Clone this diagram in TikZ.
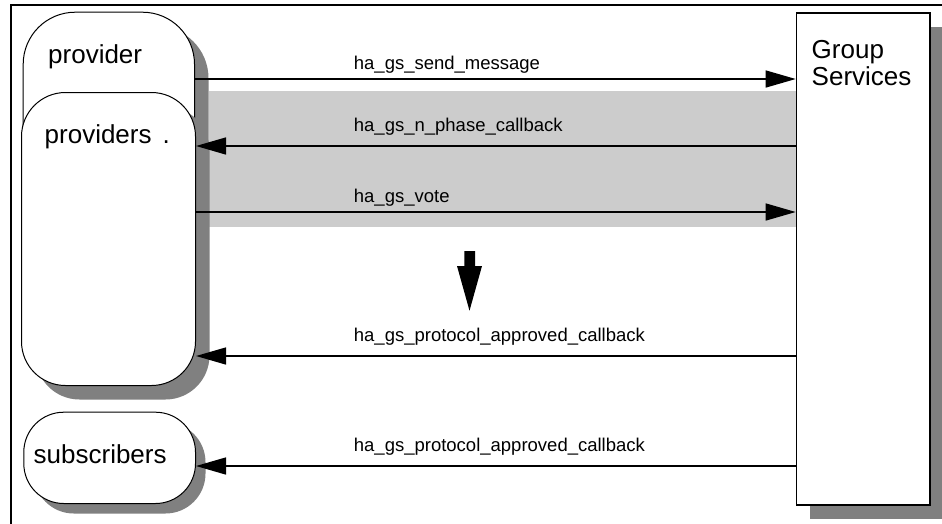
\documentclass[tikz,border=0pt]{standalone}
\usepackage{fontspec}
\setmainfont{Liberation Sans}
\usetikzlibrary{arrows.meta,shadows}
\definecolor{shadowgray}{HTML}{808080}
\definecolor{bandgray}{HTML}{CCCCCC}
\begin{document}
\begin{tikzpicture}[x=1pt,y=-1pt,
  box/.style={draw=black,fill=white,line width=1pt,inner sep=0pt,anchor=north west},
  shade/.style={drop shadow={shadow xshift=#1,shadow yshift=-#1,fill=shadowgray,opacity=1}},
  gsbox/.style={draw=black,fill=white,line width=1.7pt,inner sep=0pt,anchor=north west,
    drop shadow={shadow xshift=13pt,shadow yshift=-14pt,fill=shadowgray,opacity=1}},
  big/.style={font=\fontsize{26}{30}\selectfont,inner sep=0pt,anchor=base west},
  msg/.style={font=\fontsize{18.5}{22}\selectfont,inner sep=0pt,anchor=base west},
  arr/.style={line width=1.4pt,-{Triangle[length=30pt,width=17pt]}}]
\useasboundingbox (0,0) rectangle (942,523);

% outer frame (open on the right and at the bottom)
\draw[line width=1.5pt] (11,530) -- (11,5) -- (950,5);

% grey band behind the voting phase
\fill[bandgray] (209,91) rectangle (796,227);

% participants
\node[box,shade=14pt,rounded corners=52pt,minimum width=171.3pt,minimum height=240pt]
  (prov) at (22.7,11.7) {};
\node[box,shade=14pt,rounded corners=44pt,minimum width=174pt,minimum height=293pt]
  (provs) at (21,92) {};
\node[box,shade=10pt,rounded corners=40pt,minimum width=171.7pt,minimum height=91.3pt]
  (subs) at (23.3,411.7) {};
\node[gsbox,minimum width=133.3pt,minimum height=492pt] (gs) at (795.7,12) {};

\node[big] (provl) at (48,63.3) {provider};
\node[big] (provsl) at (44.5,143.3) {providers\kern 11pt.};
\node[big] (subsl) at (33.5,463) {subscribers};
\node[big] (gsl1) at (811.5,58.3) {Group};
\node[big] (gsl2) at (811.5,85) {Services};

% message levels
\coordinate (ySend) at (0,79);
\coordinate (yPhase) at (0,146);
\coordinate (yVote) at (0,212);
\coordinate (yAppr) at (0,356);
\coordinate (ySubs) at (0,466);

\draw[arr] (prov.east |- ySend) -- (gs.west |- ySend);
\draw[arr] (gs.west |- yPhase) -- (provs.east |- yPhase);
\draw[arr] (provs.east |- yVote) -- (gs.west |- yVote);
\draw[arr] (gs.west |- yAppr) -- (provs.east |- yAppr);
\draw[arr] (gs.west |- ySubs) -- (subs.east |- ySubs);

\node[msg] (l1) at (353.7,69.3) {ha\_gs\_send\_message};
\node[msg] (l2) at (353.7,131.7) {ha\_gs\_n\_phase\_callback};
\node[msg] (l3) at (353.7,202.7) {ha\_gs\_vote};
\node[msg] (l4) at (353.7,341.7) {ha\_gs\_protocol\_approved\_callback};
\node[msg] (l5) at (353.7,451.7) {ha\_gs\_protocol\_approved\_callback};

% block arrow: the protocol moves on
\fill (464.3,251) -- (475,251) -- (475,266) -- (482,266) -- (469.5,310.7)
  -- (457,266) -- (464.3,266) -- cycle;
\end{tikzpicture}
\end{document}
